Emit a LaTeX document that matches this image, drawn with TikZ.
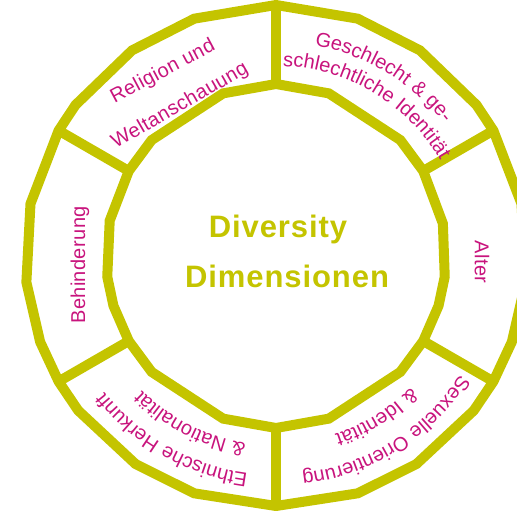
\documentclass[tikz,border=0pt]{standalone}
\usepackage{fontspec}
\setmainfont{Liberation Sans}
\newfontfamily\labfont[LetterSpace=2]{Liberation Sans}
\newfontfamily\ctrfont[LetterSpace=3]{Liberation Sans}
\usetikzlibrary{decorations.text}
\definecolor{ringcol}{RGB}{196,196,0}
\definecolor{labcol}{RGB}{200,20,125}
\tikzset{
  ring/.style={draw=ringcol, line width=10pt, line join=miter},
  spoke/.style={draw=ringcol, line width=10pt, line cap=butt},
  lab/.style={text=labcol, font=\labfont\fontsize{20}{24}\selectfont, inner sep=0pt},
  ctr/.style={text=ringcol, font=\ctrfont\bfseries\fontsize{31}{36}\selectfont, inner sep=0pt},
  arclab/.style={decorate, decoration={text along path, text align=center, text color=labcol,
     text={|\labfont\fontsize{20}{24}\selectfont|#1}}}
}
\begin{document}
\begin{tikzpicture}[x=1pt,y=1pt]
\useasboundingbox (-276,-255) rectangle (241,256);
\coordinate (C) at (0,0);
% outer ring
\draw[ring] (90:251) -- (109:251) -- (125:251) -- (143:251) -- (150:251) -- (168:251) -- (186:251) -- (200:251) -- (210:251) -- (218:251) -- (236:251) -- (251:251) -- (270:250) -- (289:251) -- (304:251) -- (322:251) -- (330:251) -- (340:251) -- (354:251) -- (12:251) -- (30:251) -- (37:251) -- (55:251) -- (71:251) -- cycle;
% inner ring
\draw[ring] (90:172) -- (108:171) -- (137:170) -- (150:170) -- (168:170) -- (187:170) -- (197:170) -- (210:170) -- (223:170) -- (252:171) -- (270:172) -- (288:171) -- (317:170) -- (330:170) -- (343:170) -- (353:170) -- (11:170) -- (30:170) -- (43:170) -- (72:171) -- cycle;
% spokes
\foreach \a in {90,150,210,270,330,30}{
  \coordinate (i\a) at (\a:170);
  \coordinate (o\a) at (\a:251);
  \draw[spoke] (i\a) -- (o\a);
}
% center text
\node[ctr] (div) at (2,27) {Diversity};
\node[ctr] (dim) at (11,-20) {Dimensionen};
% straight labels
\node[lab, rotate=28] (rel) at (-113,184) {Religion und};
\node[lab, rotate=30] (welt) at (-96,150) {Weltanschauung};
\node[lab, rotate=90] (beh) at (-196,-9) {Behinderung};
\node[lab, rotate=-90] (alt) at (206,-6) {Alter};
% curved labels
\path[arclab={Geschlecht {\&} ge-}] (100:214) arc[start angle=100, end angle=18, radius=214];
\path[arclab={schlechtliche Identität}] (110:190) arc[start angle=110, end angle=8, radius=190];
\path[arclab={Sexuelle Orientierung}] (342:219) arc[start angle=342, end angle=262, radius=219];
\path[arclab={{\&} Identität}] (342:188) arc[start angle=342, end angle=262, radius=188];
\path[arclab={Ethnische Herkunft}] (280.5:219) arc[start angle=280.5, end angle=200.5, radius=219];
\path[arclab={{\&} Nationalität}] (283:190) arc[start angle=283, end angle=203, radius=190];
\end{tikzpicture}
\end{document}
